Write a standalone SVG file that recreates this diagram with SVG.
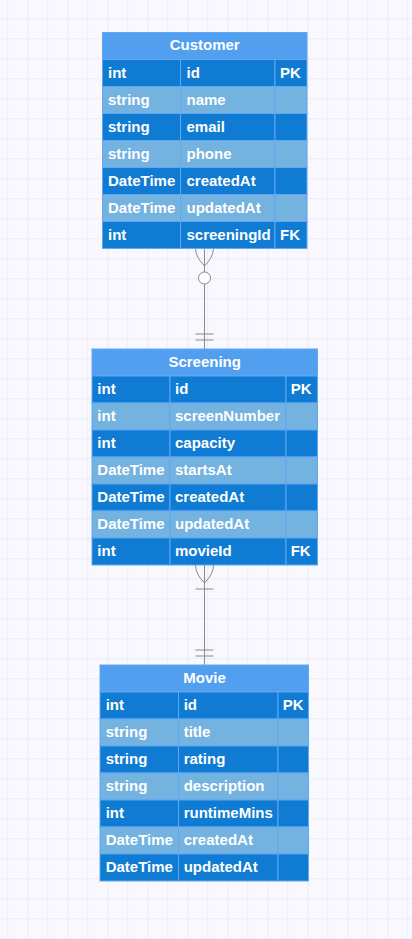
<svg xmlns="http://www.w3.org/2000/svg" width="412" height="939" viewBox="0 0 412 939">
  <defs>
    <pattern id="grid" patternUnits="userSpaceOnUse" x="7" y="18" width="20" height="20">
      <rect width="20" height="20" fill="#f8f8fe"/>
      <rect x="0" y="0" width="1.2" height="20" fill="#eeeef8"/>
      <rect x="0" y="0" width="20" height="1.2" fill="#eeeef8"/>
    </pattern>
    <style>
      .hdr { fill: #529ff0; stroke: #5ea8f4; stroke-width: 1; }
      .dk { fill: #0f7bd3; stroke: #5ea8f4; stroke-width: 1; }
      .lt { fill: #74b2e0; stroke: #5ea8f4; stroke-width: 1; }
      .t { font-family: "Liberation Sans", Arial, sans-serif; font-weight: bold; font-size: 15px; fill: #ffffff; }
      .h { text-anchor: middle; }
      .rel { fill: none; stroke: #8a8a8a; stroke-width: 1; }
    </style>
  </defs>
  <rect width="412" height="939" fill="url(#grid)"/>

  <g id="connectors">
    <!-- Customer -> Screening -->
    <path class="rel" d="M204.5,248 L204.5,349"/>
    <path class="rel" d="M195.5,248 Q195.5,257 204.5,266 M213.5,248 Q213.5,257 204.5,266"/>
    <circle cx="204.5" cy="278" r="6" fill="#ffffff" stroke="#8a8a8a" stroke-width="1"/>
    <path class="rel" d="M195.5,334 L213.5,334 M195.5,340 L213.5,340"/>
    <!-- Screening -> Movie -->
    <path class="rel" d="M204.5,565 L204.5,665"/>
    <path class="rel" d="M195.5,565 Q195.5,574 204.5,583 M213.5,565 Q213.5,574 204.5,583"/>
    <path class="rel" d="M195.5,589 L213.5,589"/>
    <path class="rel" d="M195.5,650 L213.5,650 M195.5,656 L213.5,656"/>
  </g>

  <g id="Customer">
    <rect class="hdr" x="102.5" y="32.5" width="204.5" height="27"/>
    <text class="t h" x="204.7" y="50">Customer</text>
    <rect class="dk" x="102.5" y="59.5" width="78" height="27"/><rect class="dk" x="180.5" y="59.5" width="94.5" height="27"/><rect class="dk" x="275" y="59.5" width="32" height="27"/>
    <rect class="lt" x="102.5" y="86.5" width="78" height="27"/><rect class="lt" x="180.5" y="86.5" width="94.5" height="27"/><rect class="lt" x="275" y="86.5" width="32" height="27"/>
    <rect class="dk" x="102.5" y="113.5" width="78" height="27"/><rect class="dk" x="180.5" y="113.5" width="94.5" height="27"/><rect class="dk" x="275" y="113.5" width="32" height="27"/>
    <rect class="lt" x="102.5" y="140.5" width="78" height="27"/><rect class="lt" x="180.5" y="140.5" width="94.5" height="27"/><rect class="lt" x="275" y="140.5" width="32" height="27"/>
    <rect class="dk" x="102.5" y="167.5" width="78" height="27"/><rect class="dk" x="180.5" y="167.5" width="94.5" height="27"/><rect class="dk" x="275" y="167.5" width="32" height="27"/>
    <rect class="lt" x="102.5" y="194.5" width="78" height="27"/><rect class="lt" x="180.5" y="194.5" width="94.5" height="27"/><rect class="lt" x="275" y="194.5" width="32" height="27"/>
    <rect class="dk" x="102.5" y="221.5" width="78" height="27"/><rect class="dk" x="180.5" y="221.5" width="94.5" height="27"/><rect class="dk" x="275" y="221.5" width="32" height="27"/>
    <text class="t" x="108" y="77.5">int</text><text class="t" x="186.5" y="77.5">id</text><text class="t" x="280" y="77.5">PK</text>
    <text class="t" x="108" y="104.5">string</text><text class="t" x="186.5" y="104.5">name</text>
    <text class="t" x="108" y="131.5">string</text><text class="t" x="186.5" y="131.5">email</text>
    <text class="t" x="108" y="158.5">string</text><text class="t" x="186.5" y="158.5">phone</text>
    <text class="t" x="108" y="185.5">DateTime</text><text class="t" x="186.5" y="185.5">createdAt</text>
    <text class="t" x="108" y="212.5">DateTime</text><text class="t" x="186.5" y="212.5">updatedAt</text>
    <text class="t" x="108" y="239.5">int</text><text class="t" x="186.5" y="239.5">screeningId</text><text class="t" x="280" y="239.5">FK</text>
  </g>

  <g id="Screening">
    <rect class="hdr" x="92" y="349" width="225.5" height="27"/>
    <text class="t h" x="204.7" y="366.5">Screening</text>
    <rect class="dk" x="92" y="376" width="78" height="27"/><rect class="dk" x="170" y="376" width="116" height="27"/><rect class="dk" x="286" y="376" width="31.5" height="27"/>
    <rect class="lt" x="92" y="403" width="78" height="27"/><rect class="lt" x="170" y="403" width="116" height="27"/><rect class="lt" x="286" y="403" width="31.5" height="27"/>
    <rect class="dk" x="92" y="430" width="78" height="27"/><rect class="dk" x="170" y="430" width="116" height="27"/><rect class="dk" x="286" y="430" width="31.5" height="27"/>
    <rect class="lt" x="92" y="457" width="78" height="27"/><rect class="lt" x="170" y="457" width="116" height="27"/><rect class="lt" x="286" y="457" width="31.5" height="27"/>
    <rect class="dk" x="92" y="484" width="78" height="27"/><rect class="dk" x="170" y="484" width="116" height="27"/><rect class="dk" x="286" y="484" width="31.5" height="27"/>
    <rect class="lt" x="92" y="511" width="78" height="27"/><rect class="lt" x="170" y="511" width="116" height="27"/><rect class="lt" x="286" y="511" width="31.5" height="27"/>
    <rect class="dk" x="92" y="538" width="78" height="27"/><rect class="dk" x="170" y="538" width="116" height="27"/><rect class="dk" x="286" y="538" width="31.5" height="27"/>
    <text class="t" x="97.3" y="394">int</text><text class="t" x="175" y="394">id</text><text class="t" x="290.7" y="394">PK</text>
    <text class="t" x="97.3" y="421">int</text><text class="t" x="175" y="421">screenNumber</text>
    <text class="t" x="97.3" y="448">int</text><text class="t" x="175" y="448">capacity</text>
    <text class="t" x="97.3" y="475">DateTime</text><text class="t" x="175" y="475">startsAt</text>
    <text class="t" x="97.3" y="502">DateTime</text><text class="t" x="175" y="502">createdAt</text>
    <text class="t" x="97.3" y="529">DateTime</text><text class="t" x="175" y="529">updatedAt</text>
    <text class="t" x="97.3" y="556">int</text><text class="t" x="175" y="556">movieId</text><text class="t" x="290.7" y="556">FK</text>
  </g>

  <g id="Movie">
    <rect class="hdr" x="100" y="665" width="208.5" height="27"/>
    <text class="t h" x="204.5" y="682.5">Movie</text>
    <rect class="dk" x="100" y="692" width="78.5" height="27"/><rect class="dk" x="178.5" y="692" width="99.5" height="27"/><rect class="dk" x="278" y="692" width="30.5" height="27"/>
    <rect class="lt" x="100" y="719" width="78.5" height="27"/><rect class="lt" x="178.5" y="719" width="99.5" height="27"/><rect class="lt" x="278" y="719" width="30.5" height="27"/>
    <rect class="dk" x="100" y="746" width="78.5" height="27"/><rect class="dk" x="178.5" y="746" width="99.5" height="27"/><rect class="dk" x="278" y="746" width="30.5" height="27"/>
    <rect class="lt" x="100" y="773" width="78.5" height="27"/><rect class="lt" x="178.5" y="773" width="99.5" height="27"/><rect class="lt" x="278" y="773" width="30.5" height="27"/>
    <rect class="dk" x="100" y="800" width="78.5" height="27"/><rect class="dk" x="178.5" y="800" width="99.5" height="27"/><rect class="dk" x="278" y="800" width="30.5" height="27"/>
    <rect class="lt" x="100" y="827" width="78.5" height="27"/><rect class="lt" x="178.5" y="827" width="99.5" height="27"/><rect class="lt" x="278" y="827" width="30.5" height="27"/>
    <rect class="dk" x="100" y="854" width="78.5" height="27"/><rect class="dk" x="178.5" y="854" width="99.5" height="27"/><rect class="dk" x="278" y="854" width="30.5" height="27"/>
    <text class="t" x="105.7" y="710">int</text><text class="t" x="183.7" y="710">id</text><text class="t" x="282.7" y="710">PK</text>
    <text class="t" x="105.7" y="737">string</text><text class="t" x="183.7" y="737">title</text>
    <text class="t" x="105.7" y="764">string</text><text class="t" x="183.7" y="764">rating</text>
    <text class="t" x="105.7" y="791">string</text><text class="t" x="183.7" y="791">description</text>
    <text class="t" x="105.7" y="818">int</text><text class="t" x="183.7" y="818">runtimeMins</text>
    <text class="t" x="105.7" y="845">DateTime</text><text class="t" x="183.7" y="845">createdAt</text>
    <text class="t" x="105.7" y="872">DateTime</text><text class="t" x="183.7" y="872">updatedAt</text>
  </g>
</svg>
